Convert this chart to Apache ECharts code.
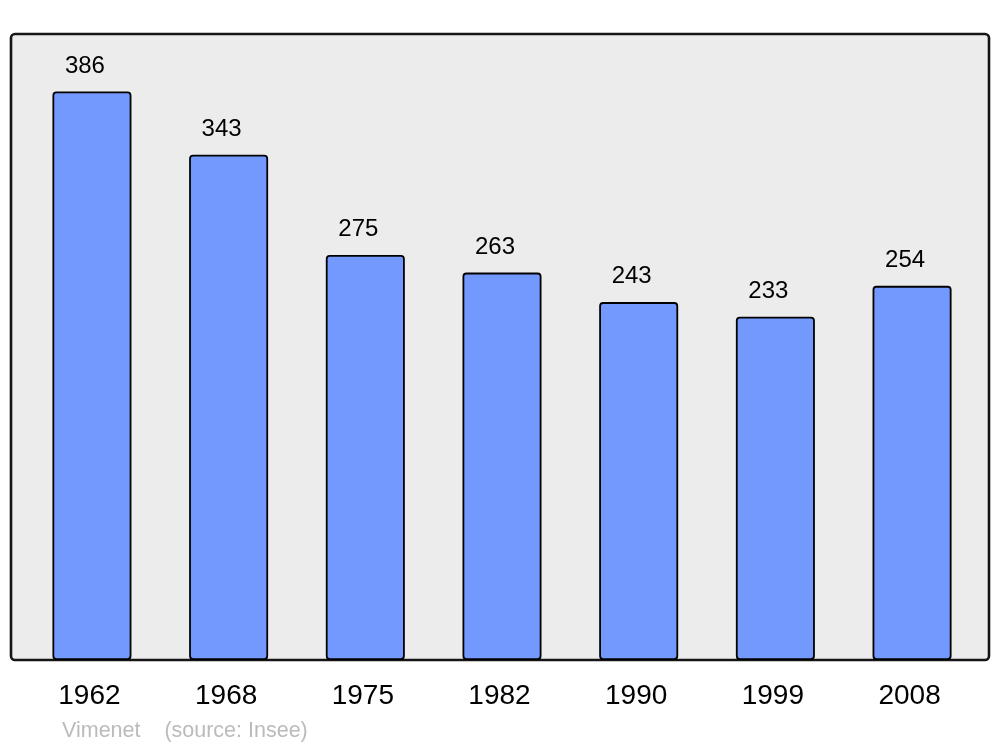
<!DOCTYPE html>
<html>
<head>
<meta charset="utf-8">
<script src="https://cdn.jsdelivr.net/npm/echarts@6/dist/echarts.min.js"></script>
<style>html,body{margin:0;padding:0;background:#fff}#c{width:1000px;height:747px}</style>
</head>
<body>
<div id="c"></div>
<script>
const years = ['1962','1968','1975','1982','1990','1999','2008'];
const population = [386, 343, 275, 263, 243, 233, 254];
const footer = 'Vimenet    (source: Insee)';

const FONT = 'Liberation Sans, Arial, sans-serif';
const chart = echarts.init(document.getElementById('c'), null, {renderer: 'canvas'});
chart.setOption({
  animation: false,
  backgroundColor: '#ffffff',
  textStyle: {fontFamily: FONT},
  grid: {left: 23.6, right: 19.6, top: 34, bottom: 87, containLabel: false},
  xAxis: {
    type: 'category',
    data: years,
    axisLine: {show: false},
    axisTick: {show: false},
    axisLabel: {color: '#000', fontSize: 28, margin: 22, fontFamily: FONT,
                formatter: v => v, padding: [0, 5, 0, 0]}
  },
  yAxis: {type: 'value', min: 0, max: 425, show: false, splitLine: {show: false}},
  graphic: [
    {type: 'rect', z: -10, shape: {x: 11, y: 34, width: 978, height: 626, r: 4},
     style: {fill: '#ececec', stroke: '#151515', lineWidth: 2.6}},
    {type: 'text', left: 62, top: 720, z: 10,
     style: {text: footer, fill: '#bbbbbb', fontSize: 21.5, fontFamily: FONT}}
  ],
  series: [{
    type: 'bar',
    data: population,
    barWidth: 79,
    itemStyle: {color: '#7399ff', borderColor: '#000', borderWidth: 1.8, borderRadius: 3},
    label: {show: true, position: 'top', distance: 13.5, offset: [-7, 0], color: '#000', fontSize: 24,
            fontFamily: FONT}
  }]
});
</script>
</body>
</html>
